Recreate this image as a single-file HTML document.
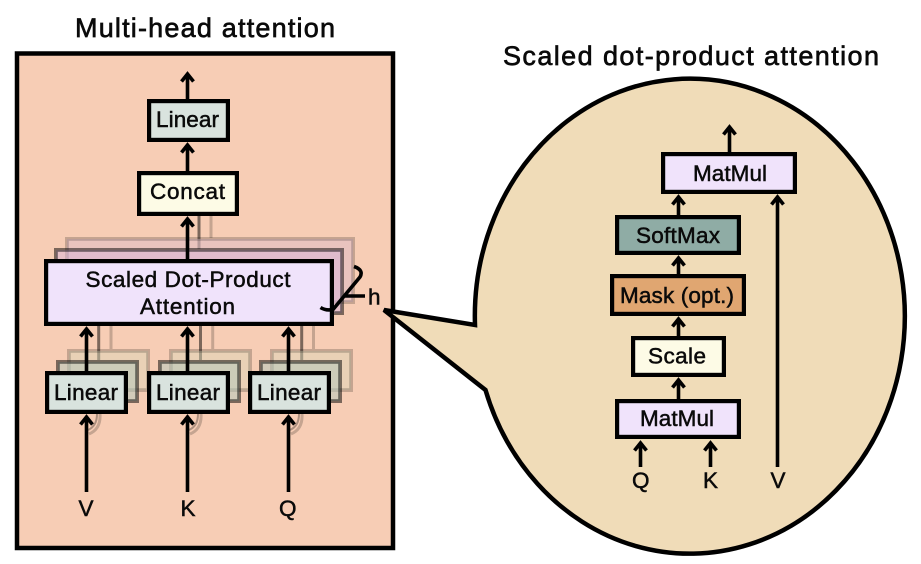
<!DOCTYPE html>
<html><head><meta charset="utf-8"><style>
html,body{margin:0;padding:0;background:#fff;width:921px;height:564px;overflow:hidden}
svg{display:block}
text{font-family:"Liberation Sans",sans-serif;font-size:22.5px;fill:#0a0a0a;stroke:#0a0a0a;stroke-width:.5}
.t{font-size:27px;stroke-width:.65}
.b{stroke:#000;stroke-width:4.200}
</style></head><body>
<svg width="921" height="564" viewBox="0 0 921 564" xmlns="http://www.w3.org/2000/svg">
<rect x="17" y="53.500" width="376" height="494.500" fill="#f7cdb5" stroke="#000" stroke-width="4.500"/>
<text class="t" x="75" y="37" textLength="260" lengthAdjust="spacing">Multi-head attention</text>
<text class="t" x="503" y="65" textLength="376" lengthAdjust="spacing">Scaled dot-product attention</text>

<path d="M475 325 A215 237.500 0 1 1 485.500 390 L384 310 Z" fill="#f0dcb8" stroke="#000" stroke-width="4.500" stroke-linejoin="miter"/>

<!-- connectors behind the stacked layers -->
<path d="M211 216V238M111 326V349M212.700 326V349M313.500 326V349" stroke="#000" stroke-opacity=".2" stroke-width="3" fill="none"/>
<path d="M199 216V249M98.700 326V360M200.500 326V360M301.700 326V360" stroke="#000" stroke-opacity=".5" stroke-width="3" fill="none"/>
<path d="M100 414Q101 429 89 434M201 414Q202 429 190 434M302 414Q303 429 291 434" stroke="#000" stroke-opacity=".2" stroke-width="3" fill="none"/>
<path d="M97 414Q97 426 88 430M198 414Q198 426 189 430M299 414Q299 426 290 430" stroke="#000" stroke-opacity=".3" stroke-width="2" fill="none"/>

<!-- back layer 2 -->
<g stroke="#000" stroke-opacity=".2" stroke-width="3.800">
<rect x="66.900" y="238.900" width="286.200" height="63.200" fill="#e0bcc4" fill-opacity=".6"/>
<g fill="#d6d8b8" fill-opacity=".45">
<rect x="68.900" y="350.900" width="79.200" height="39.200"/>
<rect x="170.900" y="350.900" width="79.200" height="39.200"/>
<rect x="271.900" y="350.900" width="79.200" height="39.200"/>
</g></g>
<!-- back layer 1 -->
<g stroke="#000" stroke-opacity=".5" stroke-width="3.800">
<rect x="55.900" y="249.900" width="286.200" height="63.200" fill="#d8b4dc" fill-opacity=".5"/>
<g fill="#b4c8bc" fill-opacity=".55">
<rect x="57.900" y="361.900" width="79.200" height="39.200"/>
<rect x="159.900" y="361.900" width="79.200" height="39.200"/>
<rect x="260.900" y="361.900" width="79.200" height="39.200"/>
</g></g>

<!-- left boxes -->
<rect class="b" x="149.100" y="101.100" width="78.800" height="38.800" fill="#d9e3de"/>
<rect class="b" x="139.100" y="173.100" width="97.800" height="40.800" fill="#fdfbe6"/>
<rect class="b" x="46.100" y="261.100" width="285.800" height="62.800" fill="#f0e3fb"/>
<rect class="b" x="47.100" y="373.100" width="78.800" height="38.800" fill="#d9e3de"/>
<rect class="b" x="149.100" y="373.100" width="78.800" height="38.800" fill="#d9e3de"/>
<rect class="b" x="250.100" y="373.100" width="78.800" height="38.800" fill="#d9e3de"/>

<!-- right boxes -->
<rect class="b" x="663.100" y="154.100" width="131.800" height="37.800" fill="#f0e3fb"/>
<rect class="b" x="617.100" y="217.100" width="121.800" height="35.800" fill="#8faca5"/>
<rect class="b" x="612.100" y="276.100" width="131.800" height="37.800" fill="#e0a671"/>
<rect class="b" x="633.100" y="338.100" width="90.800" height="36.800" fill="#fdfbe6"/>
<rect class="b" x="617.100" y="401.100" width="121.800" height="35.800" fill="#f0e3fb"/>

<!-- arrows -->
<g stroke="#000" stroke-width="3.600" fill="none">
<path d="M187.500 100V74M181.500 81.500L187.500 74L193.500 81.500"/>
<path d="M187.500 172V145M181.500 152.500L187.500 145L193.500 152.500"/>
<path d="M187.500 260V219M181.500 226.500L187.500 219L193.500 226.500"/>
<path d="M86.500 372V329M80.500 336.500L86.500 329L92.500 336.500"/>
<path d="M187.500 372V329M181.500 336.500L187.500 329L193.500 336.500"/>
<path d="M288.500 372V329M282.500 336.500L288.500 329L294.500 336.500"/>
<path d="M86.500 492V417M80.500 424.500L86.500 417L92.500 424.500"/>
<path d="M187.500 492V417M181.500 424.500L187.500 417L193.500 424.500"/>
<path d="M288.500 492V417M282.500 424.500L288.500 417L294.500 424.500"/>
<path d="M729.500 153V127M723.500 134.500L729.500 127L735.500 134.500"/>
<path d="M678.500 216V197M672.500 204.500L678.500 197L684.500 204.500"/>
<path d="M678.500 275V258M672.500 265.500L678.500 258L684.500 265.500"/>
<path d="M678.500 337V319M672.500 326.500L678.500 319L684.500 326.500"/>
<path d="M678.500 400V380M672.500 387.500L678.500 380L684.500 387.500"/>
<path d="M640.500 467V443M634.500 450.500L640.500 443L646.500 450.500"/>
<path d="M710.500 467V443M704.500 450.500L710.500 443L716.500 450.500"/>
<path d="M777.500 467V197M771.500 204.500L777.500 197L783.500 204.500"/>
<path d="M320.500 307.500Q326 311 333 309.500L360 277Q364 270 354 266.500"/>
<path d="M345 296H365"/>
</g>

<!-- left text -->
<text x="156" y="127" textLength="63" lengthAdjust="spacing">Linear</text>
<text x="150" y="199" textLength="75" lengthAdjust="spacing">Concat</text>
<text x="85.500" y="287" textLength="205" lengthAdjust="spacing">Scaled Dot-Product</text>
<text x="140" y="314" textLength="95" lengthAdjust="spacing">Attention</text>
<text x="54" y="400" textLength="64" lengthAdjust="spacing">Linear</text>
<text x="156" y="400" textLength="64" lengthAdjust="spacing">Linear</text>
<text x="257" y="400" textLength="64" lengthAdjust="spacing">Linear</text>
<text x="78.500" y="516">V</text>
<text x="180.500" y="516">K</text>
<text x="279" y="516">Q</text>
<text x="368" y="304.500">h</text>

<!-- right text -->
<text x="693" y="181" textLength="74" lengthAdjust="spacing">MatMul</text>
<text x="636" y="243" textLength="84" lengthAdjust="spacing">SoftMax</text>
<text x="620" y="303" textLength="114" lengthAdjust="spacing">Mask (opt.)</text>
<text x="648" y="363.500" textLength="58" lengthAdjust="spacing">Scale</text>
<text x="640" y="426" textLength="74" lengthAdjust="spacing">MatMul</text>
<text x="632" y="488">Q</text>
<text x="703" y="488">K</text>
<text x="770.500" y="488">V</text>
</svg>
</body></html>
